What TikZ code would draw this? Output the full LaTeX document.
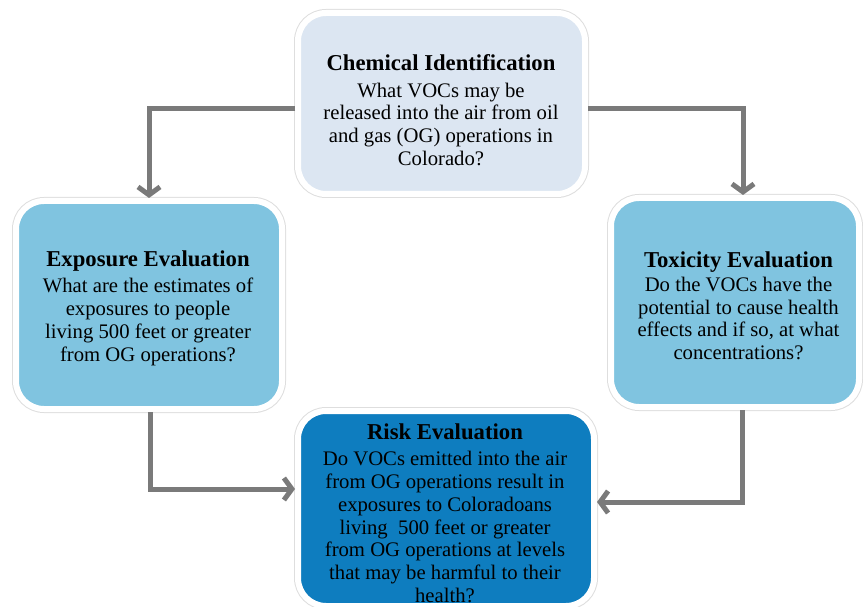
\documentclass[tikz,border=0pt]{standalone}
\usepackage{fontspec}
\setmainfont{Liberation Serif}
\usetikzlibrary{arrows.meta,shadows}
\definecolor{chemfill}{HTML}{DCE6F2}
\definecolor{midfill}{HTML}{80C4E0}
\definecolor{riskfill}{HTML}{0E7DBF}
\definecolor{arrgray}{HTML}{7A7A7A}
\begin{document}
\begin{tikzpicture}[x=1pt,y=-1pt,
  box/.style={rounded corners=28pt, draw=white, line width=6pt, inner sep=0pt,
    preaction={draw=black!13, line width=8pt},
    drop shadow={shadow xshift=1.2pt,shadow yshift=-2.5pt,opacity=0.3,fill=black!55}},
  txt/.style={align=center, inner sep=0pt, text=black, font=\fontsize{20.7}{22.7}\selectfont},
  arr/.style={draw=arrgray, line width=5pt, -{Straight Barb[length=8pt,width=22pt]}}]
\useasboundingbox (0,0) rectangle (863,607);
% boxes
\node[box, fill=chemfill, minimum width=287pt, minimum height=181pt] (chem) at (441.5,103.5) {};
\node[box, fill=midfill, minimum width=266pt, minimum height=208pt] (expo) at (149,305) {};
\node[box, fill=midfill, minimum width=248pt, minimum height=209pt] (tox) at (735,302.5) {};
\node[box, fill=riskfill, minimum width=296pt, minimum height=195pt] (risk) at (446,508.5) {};
% texts
\node[txt] (chemt) at (441,110) {{\fontsize{22.7}{22.7}\selectfont\bfseries Chemical Identification}\\[4pt]
What VOCs may be\\ released into the air from oil\\ and gas (OG) operations in\\ Colorado?};
\node[txt] (expot) at (148,308) {{\fontsize{22.7}{22.7}\selectfont\bfseries Exposure Evaluation}\\[4pt]
What are the estimates of\\ exposures to people\\ living 500 feet or greater\\ from OG operations?};
\node[txt] (toxt) at (738.5,306) {{\fontsize{22.7}{22.7}\selectfont\bfseries Toxicity Evaluation}\\[1pt]
Do the VOCs have the\\ potential to cause health\\ effects and if so, at what\\ concentrations?};
\node[txt] (riskt) at (445,513) {{\fontsize{22.7}{22.7}\selectfont\bfseries Risk Evaluation}\\[4pt]
Do VOCs emitted into the air\\ from OG operations result in\\ exposures to Coloradoans\\ living\ \ 500 feet or greater\\ from OG operations at levels\\ that may be harmful to their\\ health?};
% connectors
\draw[arr] ([yshift=-5.5pt]chem.west) -| (expo.north);
\draw[arr] ([yshift=-5.5pt]chem.east) -| ([xshift=8pt]tox.north);
\draw[arr] ([xshift=1pt]expo.south) |- ([yshift=19.5pt]risk.west);
\draw[arr] ([xshift=7pt]tox.south) |- ([yshift=6.5pt]risk.east);
\end{tikzpicture}
\end{document}
